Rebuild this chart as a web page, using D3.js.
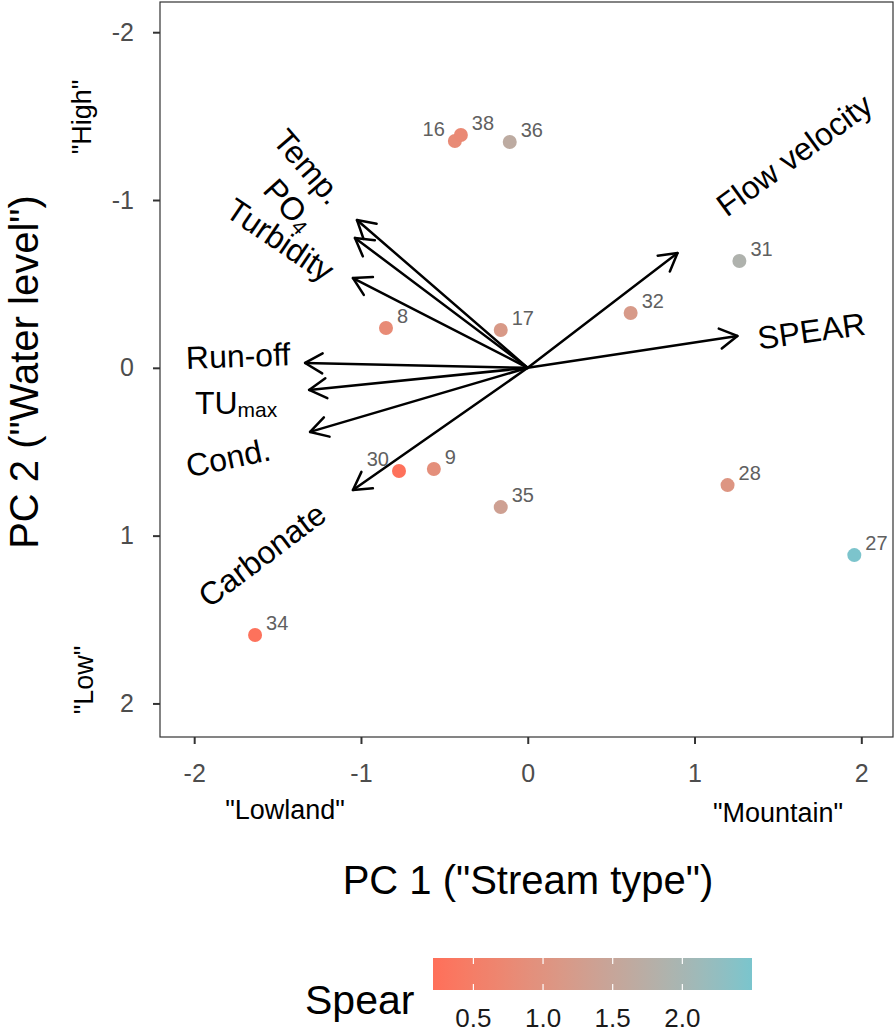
<!DOCTYPE html>
<html><head><meta charset="utf-8">
<script src="https://cdn.jsdelivr.net/npm/d3@7"></script>
<style>body{margin:0;background:#fff} svg{display:block} text{font-family:"Liberation Sans",Arial,sans-serif}</style>
</head><body><svg id="c" width="896" height="1034"></svg>
<script>
// ---- data ----
const sites = ["16","38","36","31","32","17","8","30","9","35","28","27","34"];
const pc1 = [-0.437,-0.401,-0.108,1.269,0.617,-0.162,-0.850,-0.772,-0.563,-0.162,1.198,1.958,-1.635];
const pc2 = [-1.352,-1.387,-1.346,-0.637,-0.327,-0.225,-0.237,0.615,0.603,0.830,0.699,1.116,1.592];
const spear = [0.80,0.76,1.66,1.88,1.18,1.15,0.80,0.25,0.90,1.36,1.05,2.48,0.27];
const labelSide = ["left","right","right","right","right","right","right","left","right","right","right","right","right"];

const variables = ["Temp.","PO4","Turbidity","Run-off","TUmax","Cond.","Carbonate","Flow velocity","SPEAR"];
const loadX = [-1.024,-1.036,-1.048,-1.335,-1.311,-1.305,-1.048,0.898,1.257];
const loadY = [-0.881,-0.774,-0.535,-0.029,0.132,0.382,0.728,-0.684,-0.190];
const varLabelX = [-1.317,-1.431,-1.485,-1.737,-1.749,-1.796,-1.593,1.599,1.701];
const varLabelY = [-1.197,-0.970,-0.762,-0.070,0.209,0.537,1.115,-1.268,-0.219];
const varLabelAngle = [49,48,34,-2,0,-12,-37,-36,-8];

const xTicks = [-2,-1,0,1,2];
const yTicks = [-2,-1,0,1,2];
const legendTicks = [0.5,1.0,1.5,2.0];
const spearRange = [0.21,2.50];

// ---- layout ----
const svg = d3.select("#c");
const P = {l:160, r:893, t:2, b:737};
const x = d3.scaleLinear().domain([-2.205,2.19]).range([P.l,P.r]);
const y = d3.scaleLinear().domain([-2.18,2.2]).range([P.t,P.b]);
const lowC = "#FF6F59", highC = "#7AC5CD";
const color = d3.scaleLinear().domain(spearRange).range([lowC,highC]).interpolate(d3.interpolateLab);

// panel
svg.append("rect").attr("x",P.l).attr("y",P.t).attr("width",P.r-P.l).attr("height",P.b-P.t)
  .attr("fill","#fff").attr("stroke","#333").attr("stroke-width",1.2);

// axes
const fmt = d => String(d);
const gx = svg.append("g").attr("transform",`translate(0,${P.b})`)
  .call(d3.axisBottom(x).tickValues(xTicks).tickSize(7).tickPadding(20).tickFormat(fmt));
const gy = svg.append("g").attr("transform",`translate(${P.l},0)`)
  .call(d3.axisLeft(y).tickValues(yTicks).tickSize(7).tickPadding(19).tickFormat(fmt));
[gx,gy].forEach(g=>{
  g.select(".domain").remove();
  g.selectAll(".tick line").attr("stroke","#333").attr("stroke-width",2);
  g.selectAll(".tick text").attr("fill","#4D4D4D").style("font-size","25px").style("font-family","'Liberation Sans',Arial,sans-serif");
});

// points
const pts = sites.map((s,i)=>({s, x:pc1[i], y:pc2[i], v:spear[i], side:labelSide[i]}));
svg.append("g").selectAll("circle").data(pts).join("circle")
  .attr("cx",d=>x(d.x)).attr("cy",d=>y(d.y)).attr("r",7)
  .attr("fill",d=>color(d.v));
svg.append("g").selectAll("text").data(pts).join("text")
  .attr("x",d=>x(d.x)+(d.side==="left"?-10:11)).attr("y",d=>y(d.y)-5)
  .attr("text-anchor",d=>d.side==="left"?"end":"start")
  .attr("fill","#606060").style("font-size","20px").text(d=>d.s);

// arrows
const ox = x(0), oy = y(0);
const arr = svg.append("g").attr("stroke","#000").attr("stroke-width",2.5).attr("fill","none")
  .attr("stroke-linecap","round").attr("stroke-linejoin","round");
variables.forEach((v,i)=>{
  const tx = x(loadX[i]), ty = y(loadY[i]);
  const a = Math.atan2(ty-oy, tx-ox);
  const L = 20, h = Math.PI/6;
  arr.append("line").attr("x1",ox).attr("y1",oy).attr("x2",tx).attr("y2",ty);
  arr.append("path").attr("d",
    `M${tx-L*Math.cos(a-h)},${ty-L*Math.sin(a-h)}L${tx},${ty}L${tx-L*Math.cos(a+h)},${ty-L*Math.sin(a+h)}`);
});

// variable labels
variables.forEach((v,i)=>{
  const t = svg.append("text")
    .attr("transform",`translate(${x(varLabelX[i])},${y(varLabelY[i])}) rotate(${varLabelAngle[i]})`)
    .attr("text-anchor","middle").attr("dominant-baseline","central")
    .attr("fill","#000").style("font-size","32px");
  if (v==="PO4") { t.append("tspan").text("PO"); t.append("tspan").attr("dy","0.3em").style("font-size","21px").text("4"); }
  else if (v==="TUmax") { t.append("tspan").text("TU"); t.append("tspan").attr("dy","0.3em").style("font-size","21px").text("max"); }
  else t.text(v);
});

// annotation texts
const ann = [
  {t:'"High"', px:82, py:117, r:-90},
  {t:'"Low"', px:84, py:680, r:-90},
  {t:'"Lowland"', px:285, py:810, r:0},
  {t:'"Mountain"', px:778, py:813, r:0}
];
ann.forEach(a=>svg.append("text").attr("transform",`translate(${a.px},${a.py}) rotate(${a.r})`)
  .attr("text-anchor","middle").attr("dominant-baseline","central").attr("fill","#000")
  .style("font-size","27px").text(a.t));

// axis titles
svg.append("text").attr("x",528).attr("y",880).attr("text-anchor","middle").attr("dominant-baseline","central")
  .style("font-size","40px").attr("fill","#000").text('PC 1 ("Stream type")');
svg.append("text").attr("transform","translate(24,372) rotate(-90)").attr("text-anchor","middle").attr("dominant-baseline","central")
  .style("font-size","40px").attr("fill","#000").text('PC 2 ("Water level")');

// legend
const lx = d3.scaleLinear().domain(spearRange).range([433,752]);
const defs = svg.append("defs");
const grad = defs.append("linearGradient").attr("id","g").attr("x1","0%").attr("x2","100%");
d3.range(0,21).forEach(k=>{
  const v = spearRange[0]+(spearRange[1]-spearRange[0])*k/20;
  grad.append("stop").attr("offset",(k*5)+"%").attr("stop-color",color(v));
});
svg.append("rect").attr("x",lx(spearRange[0])).attr("y",958).attr("width",lx(spearRange[1])-lx(spearRange[0])).attr("height",32)
  .attr("fill","url(#g)");
const lg = svg.append("g");
legendTicks.forEach(t=>{
  lg.append("line").attr("x1",lx(t)).attr("x2",lx(t)).attr("y1",958).attr("y2",964).attr("stroke","#fff").attr("stroke-width",1.2);
  lg.append("line").attr("x1",lx(t)).attr("x2",lx(t)).attr("y1",984).attr("y2",990).attr("stroke","#fff").attr("stroke-width",1.2);
  lg.append("text").attr("x",lx(t)).attr("y",1027).attr("text-anchor","middle").style("font-size","26px").attr("fill","#1a1a1a")
    .text(d3.format(".1f")(t));
});
svg.append("text").attr("x",305).attr("y",1014).style("font-size","41px").attr("fill","#000").text("Spear");
</script></body></html>
